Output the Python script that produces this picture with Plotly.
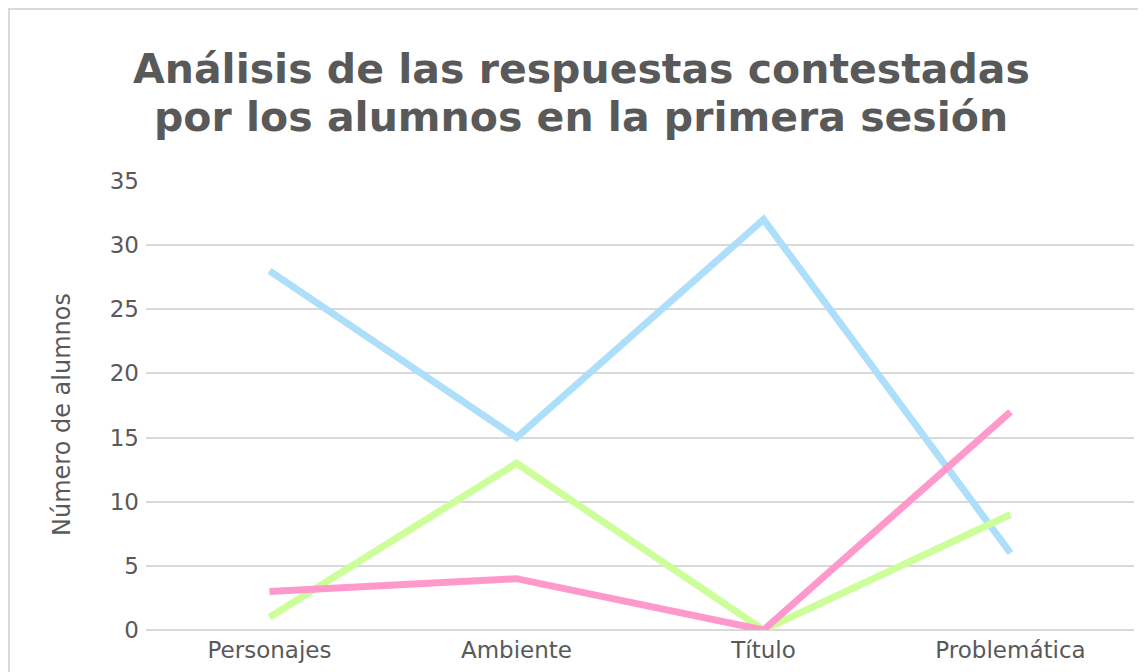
import plotly.graph_objects as go

categories = ["Personajes", "Ambiente", "Título", "Problemática"]
serie_azul = [28, 15, 32, 6]
serie_rosa = [3, 4, 0, 17]
serie_verde = [1, 13, 0, 9]
y_ticks = [0, 5, 10, 15, 20, 25, 30, 35]
title_lines = ["Análisis de las respuestas contestadas", "por los alumnos en la primera sesión"]
y_title = "Número de alumnos"

W, H = 1146, 672
L, R, T, B = 138, 20, 173, 50
pw = W - L - R
ph = H - T - B

fig = go.Figure()
for vals, col, name in [(serie_azul, "#ADDFFB", "Azul"), (serie_verde, "#CCFF99", "Verde"), (serie_rosa, "#FF99CC", "Rosa")]:
    fig.add_trace(go.Scatter(x=categories, y=vals, mode="lines", name=name,
                             line=dict(color=col, width=7)))

def px_x(p):
    return (p - L) / pw

def px_y(p):
    return (H - B - p) / ph

fig.add_shape(type="rect", xref="paper", yref="paper",
              x0=px_x(1), x1=px_x(1200), y0=px_y(1), y1=px_y(720),
              line=dict(color="#d9d9d9", width=2), fillcolor="rgba(0,0,0,0)", layer="below")

for txt, yc in zip(title_lines, [61, 109]):
    fig.add_annotation(text="<b>" + txt + "</b>", xref="paper", yref="paper",
                       x=px_x(W / 2), y=px_y(yc), xanchor="center", yanchor="middle",
                       showarrow=False, font=dict(size=41, color="#595959", family="DejaVu Sans"))

fig.add_annotation(text=y_title, xref="paper", yref="paper", x=px_x(54), y=px_y(407),
                   xanchor="center", yanchor="middle", textangle=-90, showarrow=False,
                   font=dict(size=24, color="#595959", family="DejaVu Sans"))

fig.update_layout(
    width=W, height=H,
    margin=dict(l=L, r=R, t=T, b=B),
    paper_bgcolor="white", plot_bgcolor="white",
    showlegend=False,
    font=dict(family="DejaVu Sans", color="#595959"),
    xaxis=dict(type="category", range=[-0.5, 3.5], showgrid=False, showline=False,
               zeroline=False, tickfont=dict(size=23, color="#595959"), ticks="", ticklabelstandoff=4),
    yaxis=dict(range=[0, 35], tickvals=y_ticks, showgrid=True, gridcolor="#d9d9d9", gridwidth=1.5,
               zeroline=True, zerolinecolor="#d9d9d9", zerolinewidth=1.5, showline=False,
               tickfont=dict(size=23, color="#595959"), ticks="", ticklabelstandoff=6),
)

fig.write_html("out.html")
